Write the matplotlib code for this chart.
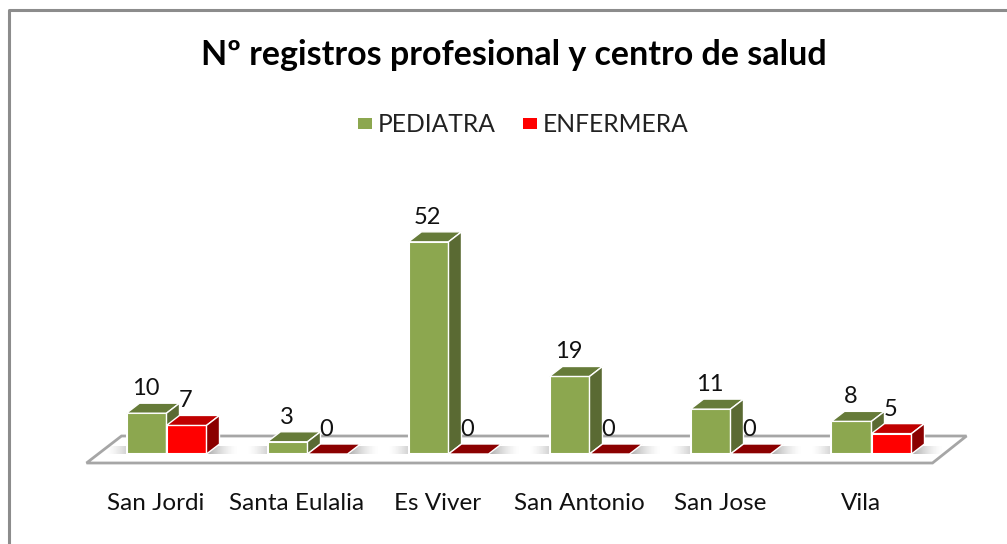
"""
N registros por profesional y centro de salud (3D-look column chart)
"""
import numpy as np
import matplotlib.pyplot as plt
from matplotlib.patches import Polygon, Rectangle

plt.rcParams['font.family'] = ['Lato', 'DejaVu Sans']

centros = ['San Jordi', 'Santa Eulalia', 'Es Viver', 'San Antonio', 'San Jose', 'Vila']
pediatra = [10, 3, 52, 19, 11, 8]
enfermera = [7, 0, 0, 0, 0, 5]

W, H = 1007, 544
PX_X = 141.0        # pixels per category
PX_Y = 4.08         # pixels per unit of value
X0, Y0 = 166.5, 454   # pixel of first category / value 0

fig = plt.figure(figsize=(W / 100, H / 100), dpi=100, facecolor='white')
ax = fig.add_axes([0, 0, 1, 1])

bar_w = 40 / PX_X
dx = 13 / PX_X      # depth of the fake 3D
dy = 10 / PX_Y
x = np.arange(len(centros))


def bar3d(left, value, front, top, side):
    if value > 0:
        ax.bar(left, value, bar_w, align='edge', color=front, edgecolor='white', linewidth=1.5, zorder=4)
    else:
        top = side
    ax.add_patch(Polygon([(left, value), (left + bar_w, value), (left + bar_w + dx, value + dy), (left + dx, value + dy)],
                         facecolor=top, edgecolor='white', linewidth=1, zorder=4))
    if value > 0:
        ax.add_patch(Polygon([(left + bar_w, 0), (left + bar_w + dx, dy), (left + bar_w + dx, value + dy), (left + bar_w, value)],
                             facecolor=side, edgecolor='white', linewidth=1, zorder=4))


# floor
fl = 9 / PX_Y
floor = [(-80 / PX_X, -fl), (766 / PX_X, -fl), (800 / PX_X, 18 / PX_Y), (-45 / PX_X, 18 / PX_Y)]
ax.add_patch(Polygon(floor, facecolor='white', edgecolor='#a6a6a6', linewidth=2, zorder=1))

# soft shadow behind the bars
fade = np.linspace(0, 1, 60)
shade = np.minimum(np.minimum(fade, fade[::-1]) * 3.5, 1)[None, :]
for i in x:
    ax.imshow(np.full_like(shade, 0.5), extent=(i - 62 / PX_X, i + 72 / PX_X, 0, 8 / PX_Y), cmap='gray',
              vmin=0, vmax=1, alpha=shade ** 1.5 * 0.9, aspect='auto', zorder=2, interpolation='bilinear')
ax.set_xlim(-X0 / PX_X, (W - X0) / PX_X)
ax.set_ylim(-(H - Y0) / PX_Y, Y0 / PX_Y)
ax.axis('off')

for i in x:
    bar3d(i - bar_w, pediatra[i], '#8ca74f', '#667b39', '#5a6a33')
    bar3d(i, enfermera[i], '#ff0000', '#c00000', '#8b0000')
    ax.text(i - bar_w / 2 - 1 / PX_X, pediatra[i] + 24.5 / PX_Y, str(pediatra[i]), ha='center', va='center', fontsize=17, color='#111111', zorder=5)
    ax.text(i + bar_w / 2 - 1 / PX_X, enfermera[i] + 24.5 / PX_Y, str(enfermera[i]), ha='center', va='center', fontsize=17, color='#111111', zorder=5)
    ax.text(i - 10.5 / PX_X, -49 / PX_Y, centros[i], ha='center', va='center', fontsize=17.5, color='#111111')

# everything else sits in figure pixels
tr = fig.transFigure
def fx(px): return px / W
def fy(px): return 1 - px / H

fig.text(fx(514), fy(55), 'Nº registros profesional y centro de salud', ha='center', va='center',
         fontsize=24.5, fontweight='bold', color='black')

fig.add_artist(Rectangle((fx(358), fy(129)), 14 / W, 11 / H, transform=tr, facecolor='#8ca74f', edgecolor='none'))
fig.add_artist(Rectangle((fx(523), fy(129)), 14 / W, 11 / H, transform=tr, facecolor='#ff0000', edgecolor='none'))
fig.text(fx(378), fy(124), 'PEDIATRA', ha='left', va='center', fontsize=17.7, color='#222222')
fig.text(fx(543), fy(124), 'ENFERMERA', ha='left', va='center', fontsize=17.7, color='#222222')

# chart border: only left and top are inside the crop
fig.add_artist(plt.Line2D([fx(9), fx(9), fx(W)], [0, fy(10), fy(10)], transform=tr, color='#8c8c8c', linewidth=2.2))

fig.savefig('out.png', dpi=100)
